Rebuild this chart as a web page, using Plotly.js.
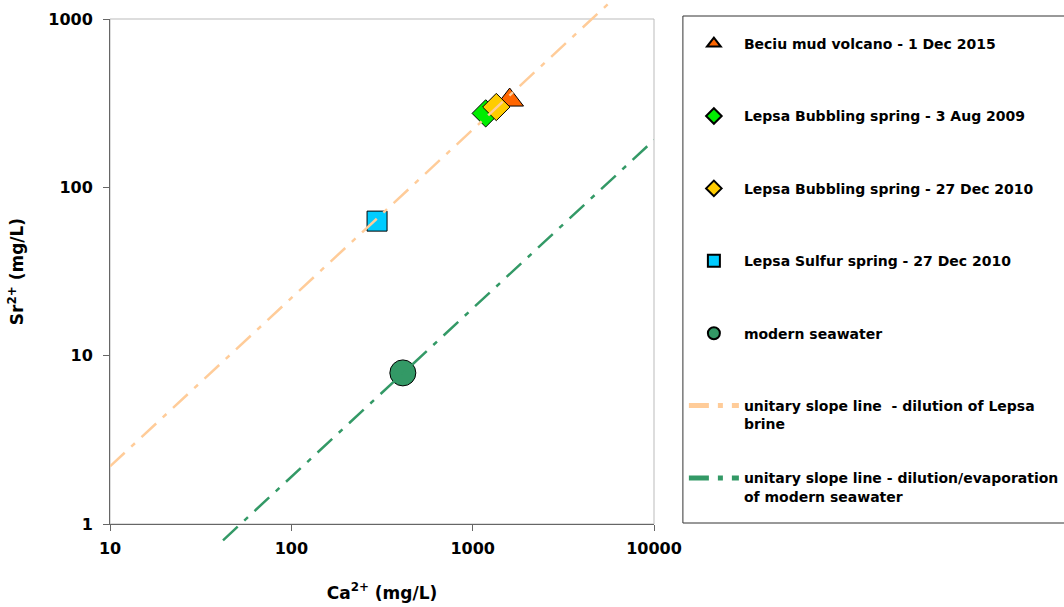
<!DOCTYPE html>
<html>
<head>
<meta charset="utf-8">
<script src="https://cdn.plot.ly/plotly-3.0.1.min.js"></script>
<style>html,body{margin:0;padding:0;background:#fff;}#chart{width:1064px;height:607px;}</style>
</head>
<body>
<div id="chart"></div>
<script>
// ---- data ----
const beciuCa = [1600];      const beciuSr = [330];
const lepsa2009Ca = [1180];  const lepsa2009Sr = [275];
const lepsa2010Ca = [1350];  const lepsa2010Sr = [300];
const sulfurCa = [297];      const sulfurSr = [63];
const seawaterCa = [412];    const seawaterSr = [7.9];
const lepsaLineCa = [10, 5600];      const lepsaLineSr = [2.2, 1232];
const seaLineCa = [42, 10000];       const seaLineSr = [0.80, 191];
const xTicks = [10, 100, 1000, 10000];
const xTickText = ['10', '100', '1000', '10000'];
const yTicks = [1, 10, 100, 1000];
const yTickText = ['1', '10', '100', '1000'];
const names = [
  'Beciu mud volcano - 1 Dec 2015<br>&nbsp;',
  'Lepsa Bubbling spring - 3 Aug 2009<br>&nbsp;',
  'Lepsa Bubbling spring - 27 Dec 2010<br>&nbsp;',
  'Lepsa Sulfur spring - 27 Dec 2010<br>&nbsp;',
  'modern seawater<br>&nbsp;',
  'unitary slope line&nbsp; - dilution of Lepsa<br>brine',
  'unitary slope line - dilution/evaporation<br>of modern seawater'
];

const W = 1064, H = 607;
const mT = 0, mB = 60, mL = 110, mR = 408;
const plotTop = 19, plotBottom = 524;       // pixel frame of the main axes
const paperH = H - mT - mB;
const paperW = W - mL - mR;
const pxPerDec = (plotBottom - plotTop) / 3;
const yDom = [(paperH - (plotBottom - mT)) / paperH, (paperH - (plotTop - mT)) / paperH];
const y2Range = [-(paperH - (plotBottom - mT)) / pxPerDec, 3 + (plotTop - mT) / pxPerDec];
const px2x = px => (px - mL) / paperW;
const px2y = py => (paperH - (py - mT)) / paperH;

const mk = (color, symbol, size) => ({color: color, symbol: symbol, size: size, line: {color: '#000', width: 1}});

const traces = [
  {x: lepsaLineCa, y: lepsaLineSr, yaxis: 'y2', mode: 'lines', name: names[5], legendrank: 6, legendgroup: 'g6',
   line: {color: '#FFCC99', width: 2.5, dash: '20px,9px,5px,9px'}},
  {x: seaLineCa, y: seaLineSr, yaxis: 'y2', mode: 'lines', name: names[6], legendrank: 7, legendgroup: 'g7',
   line: {color: '#339966', width: 2.5, dash: '20px,9px,5px,9px'}},
  {x: beciuCa, y: beciuSr, mode: 'markers', name: names[0], legendrank: 1, legendgroup: 'g1', marker: mk('#FF6600', 'triangle-up', 24)},
  {x: lepsa2009Ca, y: lepsa2009Sr, mode: 'markers', name: names[1], legendrank: 2, legendgroup: 'g2', marker: mk('#00EE00', 'diamond', 21)},
  {x: lepsa2010Ca, y: lepsa2010Sr, mode: 'markers', name: names[2], legendrank: 3, legendgroup: 'g3', marker: mk('#FFCC00', 'diamond', 21)},
  {x: sulfurCa, y: sulfurSr, mode: 'markers', name: names[3], legendrank: 4, legendgroup: 'g4', marker: mk('#00CCFF', 'square', 20)},
  {x: seawaterCa, y: seawaterSr, mode: 'markers', name: names[4], legendrank: 5, legendgroup: 'g5', marker: mk('#339966', 'circle', 26)}
];

const fontFam = 'DejaVu Sans, Arial, sans-serif';
const axisCommon = {
  type: 'log', showgrid: false, zeroline: false, showline: true, linecolor: '#666', linewidth: 1,
  ticks: 'outside', ticklen: 6, tickcolor: '#666', tickmode: 'array',
  tickfont: {family: fontFam, size: 16, color: '#000', weight: 'bold'}
};

const layout = {
  width: W, height: H,
  margin: {l: mL, r: mR, t: mT, b: mB},
  paper_bgcolor: '#fff', plot_bgcolor: 'rgba(0,0,0,0)',
  showlegend: true,
  xaxis: Object.assign({}, axisCommon, {
    range: [1, 4], domain: [0, 1], anchor: 'y', tickvals: xTicks, ticktext: xTickText,
    ticklabelstandoff: 4,
    title: {text: 'Ca<sup>2+</sup> (mg/L)', standoff: 29, font: {family: fontFam, size: 17, color: '#000', weight: 'bold'}}
  }),
  yaxis: Object.assign({}, axisCommon, {
    range: [0, 3], domain: yDom, anchor: 'x', tickvals: yTicks, ticktext: yTickText,
    ticklabelstandoff: 7,
    title: {text: 'Sr<sup>2+</sup> (mg/L)', standoff: 20, font: {family: fontFam, size: 17, color: '#000', weight: 'bold'}}
  }),
  yaxis2: {type: 'log', range: y2Range, domain: [0, 1], anchor: 'x', visible: false, fixedrange: true},
  shapes: [
    {type: 'rect', xref: 'x domain', yref: 'y domain', x0: 0, x1: 1, y0: 0, y1: 1,
     line: {color: '#BBBBBB', width: 1}, layer: 'below'},
    // legend frame
    {type: 'rect', xref: 'paper', yref: 'paper', x0: px2x(685), x1: px2x(1072), y0: px2y(523), y1: px2y(16),
     line: {color: '#333', width: 1}, fillcolor: 'rgba(0,0,0,0)', layer: 'above'}
  ],
  legend: {
    x: px2x(686), xanchor: 'left',
    y: px2y(28), yanchor: 'top',
    borderwidth: 0, bgcolor: 'rgba(0,0,0,0)',
    font: {family: fontFam, size: 14, color: '#000', weight: 'bold'},
    traceorder: 'grouped', tracegroupgap: 33, valign: 'top',
    itemsizing: 'constant', itemwidth: 50
  }
};

Plotly.newPlot('chart', traces, layout, {displayModeBar: false, staticPlot: true});
</script>
</body>
</html>
